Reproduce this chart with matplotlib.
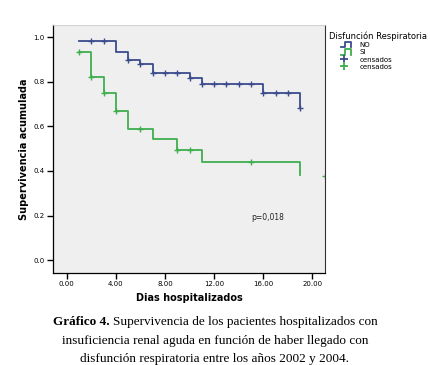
import numpy as np
import matplotlib.pyplot as plt
from matplotlib.lines import Line2D
from matplotlib.legend_handler import HandlerBase

# ------------------------------------------------------------------------------
# Kaplan-Meier steps
no_t = [1, 4, 5, 6, 7, 10, 11, 16, 19]
no_s = [0.985, 0.933, 0.898, 0.879, 0.841, 0.816, 0.789, 0.750, 0.683]
no_cens_t = [2, 3, 5, 6, 7, 8, 9, 10, 11, 12, 13, 14, 15, 16, 17, 18, 19]
no_cens_s = [0.985, 0.985, 0.898, 0.879, 0.841, 0.841, 0.841, 0.816, 0.789,
             0.789, 0.789, 0.789, 0.789, 0.750, 0.750, 0.750, 0.683]

si_t = [1, 2, 3, 4, 5, 7, 9, 11, 19]
si_s = [0.933, 0.823, 0.750, 0.671, 0.588, 0.543, 0.496, 0.439, 0.380]
si_cens_t = [1, 2, 3, 4, 6, 9, 10, 15, 21]
si_cens_s = [0.933, 0.823, 0.750, 0.671, 0.588, 0.496, 0.496, 0.439, 0.377]

xticks = [0, 4, 8, 12, 16, 20]
yticks = [0.0, 0.2, 0.4, 0.6, 0.8, 1.0]

blue = '#3b4c8c'
green = '#3fae4f'


class StepHandler(HandlerBase):
    # small "_|‾|" icon like SPSS draws, sitting in the middle of the handle box
    def create_artists(self, legend, orig, xd, yd, w, h, fs, trans):
        xs = np.array([0.42, 0.55, 0.55, 0.75, 0.75]) * w - xd
        ys = np.array([0.0, 0.0, 1.0, 1.0, 0.0]) * h - yd
        ln = Line2D(xs, ys, color=orig.get_color(), lw=1.3, transform=trans)
        return [ln]


fig = plt.figure(figsize=(4.30, 3.65), dpi=100)
fig.patch.set_facecolor('white')
ax = fig.add_axes([53/430, 1-273/365, 272/430, 248/365])
ax.set_facecolor('#efefef')

for t, s, c in [(no_t, no_s, blue), (si_t, si_s, green)]:
    ax.step(t, s, where='post', color=c, lw=1.3)

ax.plot(no_cens_t, no_cens_s, '+', color=blue, ms=4.5, mew=1.0)
ax.plot(si_cens_t, si_cens_s, '+', color=green, ms=4.5, mew=1.0)

ax.text(15.0, 0.18, 'p=0,018', fontsize=5.5, color='#222222')

ax.set_xlim(-1.12, 21.03)
ax.set_ylim(-0.058, 1.055)
ax.set_xticks(xticks)
ax.set_xticklabels(['{:.2f}'.format(v) for v in xticks])
ax.set_yticks(yticks)
ax.set_yticklabels(['{:.1f}'.format(v) for v in yticks])
ax.tick_params(labelsize=5, length=4, width=1, color='black', pad=2)
for sp in ['left', 'bottom']:
    ax.spines[sp].set_color('black')
    ax.spines[sp].set_linewidth(0.9)
ax.spines['right'].set_color('#333333')
ax.spines['right'].set_linewidth(0.8)
ax.spines['top'].set_color('#cccccc')
ax.spines['top'].set_linewidth(0.6)

ax.set_xlabel('Dias hospitalizados', fontsize=7, fontweight='bold', labelpad=4)
ax.set_ylabel('Supervivencia acumulada', fontsize=7, fontweight='bold', labelpad=3)

# legend
h_no = Line2D([], [], color=blue)
h_si = Line2D([], [], color=green)
handles = [h_no, h_si,
           Line2D([], [], color=blue, marker='+', ls='none', ms=6, mew=1.3),
           Line2D([], [], color=green, marker='+', ls='none', ms=6, mew=1.3)]
leg = fig.legend(handles, ['NO', 'SI', 'censados', 'censados'],
                 title='Disfunción Respiratoria', loc='upper left',
                 bbox_to_anchor=(325/430, 1-27/365), frameon=False,
                 fontsize=5, title_fontsize=6, handlelength=4.2,
                 handleheight=0.9, handletextpad=0.2, labelspacing=0.15,
                 borderpad=0.1,
                 handler_map={h_no: StepHandler(), h_si: StepHandler()})
leg._legend_box.align = 'left'

# caption (first line has a bold lead-in, centred as a whole)
cap_font = 'Liberation Serif'
fig.canvas.draw()
r = fig.canvas.get_renderer()
y1 = 1 - 322/365
b = fig.text(0, y1, 'Gráfico 4. ', fontsize=9.5, fontweight='bold',
             family=cap_font, va='center')
n = fig.text(0, y1, 'Supervivencia de los pacientes hospitalizados con',
             fontsize=9.5, family=cap_font, va='center')
wb = b.get_window_extent(r).width / fig.bbox.width
wn = n.get_window_extent(r).width / fig.bbox.width
x0 = 0.5 - (wb + wn) / 2
b.set_x(x0)
n.set_x(x0 + wb)
fig.text(0.5, 1-341/365, 'insuficiencia renal aguda en función de haber llegado con',
         fontsize=9.5, family=cap_font, va='center', ha='center')
fig.text(0.5, 1-359/365, 'disfunción respiratoria entre los años 2002 y 2004.',
         fontsize=9.5, family=cap_font, va='center', ha='center')

plt.savefig('out.png', dpi=100)
plt.close()
